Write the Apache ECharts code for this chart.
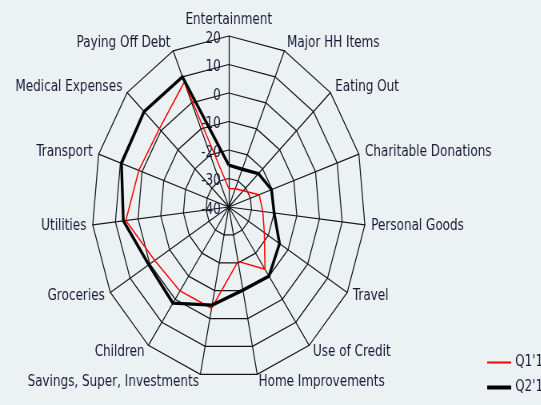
<!DOCTYPE html>
<html>
<head>
<meta charset="utf-8" />
<title>Spending radar</title>
<script src="https://cdn.jsdelivr.net/npm/echarts@6/dist/echarts.min.js"></script>
<style>
  html, body { margin: 0; padding: 0; background: #ecf2f3; overflow: hidden; }
  /* the original picture is squeezed sideways, so the whole chart is too */
  #main { position: absolute; left: 0; top: 0; width: 677px; height: 405px; transform: scaleX(0.8); transform-origin: 0 0; }
</style>
</head>
<body>
<div id="main"></div>
<script type="text/javascript">
// clockwise from the top, as in the picture
var categories = ['Entertainment', 'Major HH Items', 'Eating Out', 'Charitable Donations',
  'Personal Goods', 'Travel', 'Use of Credit', 'Home Improvements',
  'Savings, Super, Investments', 'Children', 'Groceries', 'Utilities',
  'Transport', 'Medical Expenses', 'Paying Off Debt'];
var q1Values = [-33.5, -33, -31.5, -26, -25, -22, -13, -20.5, -3.7, -3.6, -2.5, 5.4, 1.5, 1, 8];
var q2Values = [-25.3, -25.5, -22.5, -20.3, -20, -14.3, -10, -10.2, -4.8, 1.7, 0.5, 6.5, 9.5, 10, 10];
var seriesNames = ["Q1'15", "Q2'15"];
var axisMin = -40, axisMax = 20;

var textColor = '#171a36';

// echarts lays the radar out anticlockwise, so flip the order (keep the first on top)
var order = [0];
for (var i = categories.length - 1; i > 0; i--) order.push(i);
function reorder(arr) {
  return order.map(function (k) { return arr[k]; });
}

var myChart = echarts.init(document.getElementById('main'));

var option = {
  animation: false,
  textStyle: { fontFamily: 'DejaVu Sans' },
  legend: [{
    data: [seriesNames[0]],
    left: 604, top: 350,
    icon: 'rect', itemWidth: 30, itemHeight: 2,
    textStyle: { color: textColor, fontSize: 15, fontFamily: 'DejaVu Sans' }
  }, {
    data: [seriesNames[1]],
    left: 604, top: 375,
    icon: 'rect', itemWidth: 30, itemHeight: 4,
    textStyle: { color: textColor, fontSize: 15, fontFamily: 'DejaVu Sans' }
  }],
  radar: {
    center: [286, 207],
    radius: 171,
    startAngle: 90,
    shape: 'polygon',
    splitNumber: 6,
    nameGap: 8,
    axisName: { color: textColor, fontSize: 15, fontFamily: 'DejaVu Sans' },
    axisLine: { lineStyle: { color: '#151515', width: 1.25 } },
    splitLine: { lineStyle: { color: '#151515', width: 1.25 } },
    splitArea: { show: false },
    axisTick: { show: false },
    axisLabel: { show: false },
    indicator: reorder(categories).map(function (name, i) {
      var ind = { name: name, min: axisMin, max: axisMax };
      if (i === 0) {
        // tick numbers sit a little below their ring in the original
        ind.axisLabel = {
          show: true, color: textColor, fontSize: 15, margin: 10,
          fontFamily: 'DejaVu Sans', verticalAlign: 'top', lineHeight: 6
        };
      }
      return ind;
    })
  },
  series: [{
    type: 'radar',
    symbol: 'none',
    data: [{
      name: seriesNames[0],
      value: reorder(q1Values),
      lineStyle: { color: '#ff0000', width: 1.5 },
      itemStyle: { color: '#ff0000' }
    }, {
      name: seriesNames[1],
      value: reorder(q2Values),
      lineStyle: { color: '#000000', width: 3.4 },
      itemStyle: { color: '#000000' }
    }]
  }]
};

myChart.setOption(option);
</script>
</body>
</html>
